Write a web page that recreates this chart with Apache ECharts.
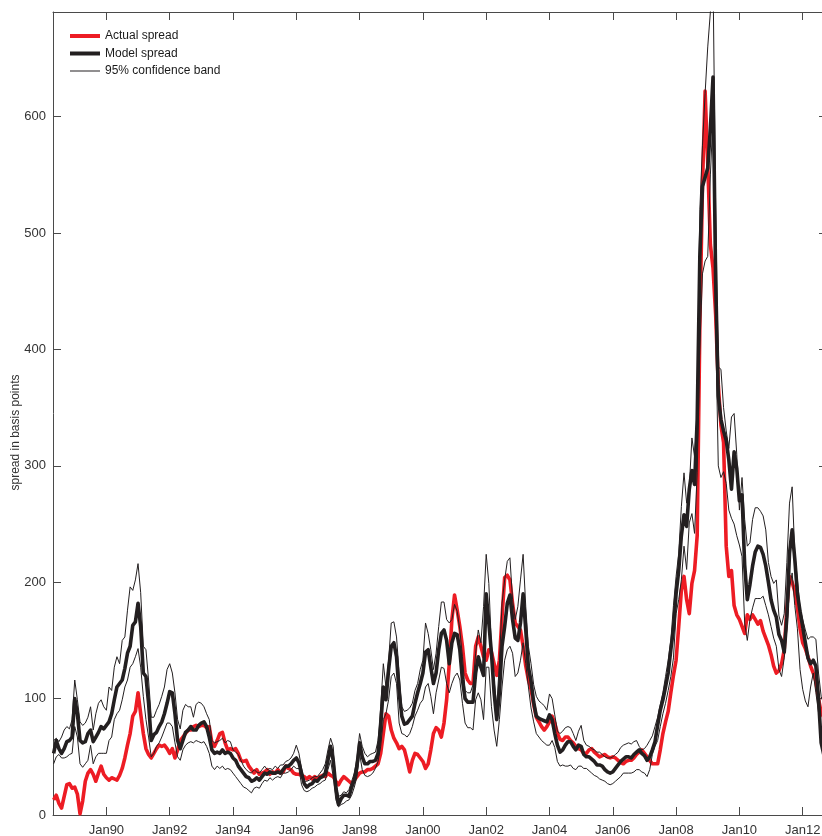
<!DOCTYPE html>
<html>
<head>
<meta charset="utf-8">
<script src="https://cdn.jsdelivr.net/npm/echarts@6/dist/echarts.min.js"></script>
<style>
  html, body { margin: 0; padding: 0; background: #fff; overflow: hidden; }
  #chart { width: 832px; height: 836px; }
</style>
</head>
<body>
<div id="chart"></div>
<script>
// Monthly series, first observation May 1988
const START_YEAR = 1988;
const START_MONTH = 5;

// Actual spread (basis points)
const actual = [
  13,17,10,6,16,26,27,23,24,18,
  1,12,29,36,39,35,29,36,42,35,
  32,30,32,31,30,34,40,49,60,70,
  85,89,105,87,70,57,52,49,53,57,
  60,59,60,57,53,57,49,56,64,67,
  70,73,73,76,77,76,77,77,75,76,
  62,59,64,70,71,62,56,57,56,57,
  53,47,46,47,42,39,36,39,35,36,
  37,39,35,37,36,39,36,37,42,40,
  39,36,35,35,34,33,31,33,31,33,
  31,33,34,33,36,34,33,29,26,30,
  33,31,29,27,30,33,36,37,37,39,
  39,40,42,44,53,70,87,85,73,66,
  62,57,59,56,47,37,47,53,52,49,
  46,40,44,56,70,75,73,67,79,99,
  130,168,189,176,162,145,122,116,113,113,
  145,153,145,136,133,142,140,130,120,133,
  170,204,206,202,182,165,162,159,145,128,
  116,108,95,84,80,76,73,76,80,85,
  79,70,65,64,67,67,64,62,59,57,
  56,53,53,56,57,54,52,50,51,52,
  50,49,50,49,47,45,44,46,47,47,
  49,52,54,56,53,50,47,44,44,44,
  56,70,80,89,105,120,133,162,193,205,
  185,173,199,210,240,420,540,622,560,490,
  470,430,370,335,320,231,205,210,180,172,
  168,162,156,172,168,172,168,164,167,158,
  152,146,138,128,122,124,130,142,178,205,
  200,192,178,160,148,143,136,128,122,115,
  100,88,84,84
];

// Model spread (basis points)
const model = [
  53,64,57,53,57,63,64,67,100,87,
  64,62,63,70,73,63,67,71,76,74,
  77,80,87,99,110,113,116,126,139,145,
  163,166,182,162,122,119,96,64,69,71,
  76,80,87,96,106,105,87,64,57,64,
  71,73,76,73,73,77,79,80,76,67,
  56,53,54,53,56,53,54,53,49,47,
  42,39,36,33,32,29,30,32,30,33,
  36,35,37,36,36,37,36,39,42,42,
  44,47,49,45,36,27,24,26,27,30,
  29,32,33,36,47,59,47,24,9,14,
  17,17,16,24,30,42,62,50,44,44,
  46,46,47,53,76,110,99,125,145,148,
  136,105,85,78,79,82,85,96,105,113,
  122,140,142,127,113,122,142,156,159,150,
  130,148,156,155,142,116,100,97,97,97,
  122,136,127,120,190,165,139,105,82,105,
  145,162,182,189,168,152,150,165,190,159,
  127,115,97,85,83,82,81,80,86,82,
  70,60,54,56,60,63,63,59,56,60,
  59,52,50,50,48,46,43,43,42,39,
  37,36,37,40,43,46,48,50,50,49,
  52,54,56,53,51,47,50,56,63,77,
  90,99,110,122,142,160,190,210,240,258,
  248,280,296,284,340,480,540,548,556,590,
  634,460,360,340,330,322,305,280,312,298,
  270,275,215,185,198,214,226,231,230,224,
  214,200,185,176,170,155,150,140,170,225,
  245,220,190,175,162,148,135,130,133,128,
  100,62,52,48
];

// Upper edge of the 95% confidence band
const upperBand = [
  64,66,63,67,73,76,74,82,116,99,
  80,77,79,84,93,73,87,96,99,93,
  90,110,107,127,136,130,150,153,176,196,
  193,202,216,191,145,142,116,84,84,90,
  95,102,110,125,130,122,105,82,74,90,
  95,93,93,84,95,97,96,93,87,82,
  64,62,63,64,66,62,64,63,56,54,
  52,47,42,39,37,36,39,37,36,39,
  42,39,40,39,42,40,43,43,46,47,
  49,53,60,53,40,29,29,30,32,33,
  33,36,39,44,56,66,59,27,16,17,
  20,19,22,29,36,49,70,59,53,50,
  52,53,54,64,93,130,110,133,165,166,
  153,122,93,89,90,92,96,107,113,125,
  133,165,156,142,125,139,162,183,183,168,
  165,168,181,175,159,136,107,105,105,112,
  139,159,148,179,224,199,145,116,93,130,
  182,202,218,221,185,168,179,202,224,179,
  145,130,112,102,98,96,94,90,104,100,
  86,72,70,72,75,76,75,70,64,72,
  77,64,60,59,57,56,54,54,52,50,
  49,49,50,52,54,58,60,61,62,61,
  63,64,59,56,57,60,64,68,76,84,
  95,105,119,133,150,180,205,225,265,294,
  268,282,324,308,345,520,575,620,660,690,
  720,520,385,383,350,330,315,342,345,310,
  262,290,254,231,234,254,264,264,261,257,
  245,217,205,199,202,171,163,173,217,268,
  282,225,202,178,168,159,151,153,153,151,
  122,102,95,92
];

// Lower edge of the 95% confidence band
const lowerBand = [
  44,50,52,49,49,50,52,53,76,67,
  44,41,44,47,60,44,50,53,53,53,
  53,64,67,82,87,90,99,110,116,127,
  130,136,143,127,102,82,67,50,53,59,
  62,67,73,79,79,76,62,50,47,56,
  60,62,63,62,64,63,62,63,59,53,
  42,39,42,40,42,39,40,39,36,33,
  30,27,24,23,21,19,23,24,23,27,
  30,29,32,30,32,33,32,36,36,37,
  39,42,40,40,26,21,20,21,23,24,
  26,27,29,30,39,47,33,13,7,9,
  10,12,13,17,24,33,53,39,34,33,
  34,36,40,46,59,82,87,99,119,122,
  113,79,70,69,67,70,76,85,90,96,
  99,110,113,102,87,105,116,127,126,113,
  105,113,119,122,116,96,79,75,75,73,
  99,105,99,82,127,127,93,73,59,82,
  110,133,142,145,139,119,122,133,148,130,
  110,92,80,70,67,64,62,60,60,64,
  58,46,42,43,42,42,43,40,39,42,
  42,40,40,38,36,34,33,31,30,29,
  27,26,27,29,31,33,36,36,36,36,
  37,39,39,37,36,33,39,52,59,64,
  76,87,96,107,119,135,173,185,202,231,
  211,251,259,242,294,400,465,476,480,550,
  600,420,300,290,295,285,262,255,250,240,
  232,222,165,150,168,178,186,186,186,188,
  180,172,162,152,145,125,119,135,160,195,
  208,180,160,125,108,98,93,110,122,105,
  88,65,52,48
];

// Axis ticks
const yearTicks = [1990, 1992, 1994, 1996, 1998, 2000, 2002, 2004, 2006, 2008, 2010, 2012];
const xMin = 1988.313;
const xMax = 2012.768;
const yMin = 0;
const yMax = 690;

const RED = '#ED1C24';
const INK = '#231F20';
const AXIS = '#4a4a4a';
const TEXT = '#333333';
const FONT = '"Liberation Sans", Arial, Helvetica, sans-serif';

// Legend keys: flat strokes, thick for the spreads and hairline for the band
const THICK_KEY = 'path://M0,0 L30,0 L30,4 L0,4 Z';
const THIN_KEY = 'path://M0,0 L30,0 L30,1 L0,1 Z';

// Decimal year of month i
function monthPos(i) {
  return START_YEAR + (START_MONTH - 1 + i) / 12;
}
function toPairs(arr) {
  return arr.map((v, i) => [monthPos(i), v]);
}
function yearLabel(v) {
  return 'Jan' + String(Math.round(v)).slice(2);
}

const chart = echarts.init(document.getElementById('chart'), null, { renderer: 'canvas' });

const tickStyle = { inside: true, length: 8, lineStyle: { color: AXIS, width: 1 } };
const lineStyleAxis = { show: true, onZero: false, lineStyle: { color: AXIS, width: 1 } };

chart.setOption({
  animation: false,
  backgroundColor: '#ffffff',
  textStyle: { fontFamily: FONT },
  grid: {
    left: 53, top: 12, width: 774, height: 803,
    containLabel: false, outerBoundsMode: 'none'
  },
  legend: {
    orient: 'vertical',
    left: 65,
    top: 25,
    itemWidth: 30,
    itemHeight: 14,
    itemGap: 5.5,
    symbolKeepAspect: true,
    textStyle: { fontSize: 12, color: '#1a1a1a', fontFamily: FONT },
    data: [
      { name: 'Actual spread', icon: THICK_KEY, itemStyle: { color: RED } },
      { name: 'Model spread', icon: THICK_KEY, itemStyle: { color: INK } },
      { name: '95% confidence band', icon: THIN_KEY, itemStyle: { color: INK } }
    ]
  },
  xAxis: [
    {
      type: 'value', position: 'bottom', min: xMin, max: xMax,
      axisLine: lineStyleAxis,
      axisTick: Object.assign({ customValues: yearTicks }, tickStyle),
      axisLabel: {
        customValues: yearTicks, formatter: yearLabel, margin: 9,
        fontSize: 13, color: TEXT, fontFamily: FONT
      },
      splitLine: { show: false }
    },
    {
      type: 'value', position: 'top', min: xMin, max: xMax,
      axisLine: lineStyleAxis,
      axisTick: Object.assign({ customValues: yearTicks }, tickStyle),
      axisLabel: { show: false },
      splitLine: { show: false }
    }
  ],
  yAxis: [
    {
      type: 'value', position: 'left', min: yMin, max: yMax, interval: 100,
      name: 'spread in basis points', nameLocation: 'middle', nameGap: 31, nameRotate: 90,
      nameMoveOverlap: false,
      nameTextStyle: { fontSize: 12, color: TEXT, fontFamily: FONT, padding: [0, 38, 0, 0] },
      axisLine: lineStyleAxis,
      axisTick: tickStyle,
      axisLabel: {
        margin: 7, fontSize: 13, color: TEXT, fontFamily: FONT,
        formatter: v => (v % 100 === 0 ? String(v) : '')
      },
      splitLine: { show: false }
    },
    {
      type: 'value', position: 'right', min: yMin, max: yMax, interval: 100,
      axisLine: lineStyleAxis,
      axisTick: tickStyle,
      axisLabel: { show: false },
      splitLine: { show: false }
    }
  ],
  series: [
    {
      name: 'Actual spread', type: 'line', data: toPairs(actual),
      showSymbol: false, symbol: 'none', clip: true, z: 2,
      lineStyle: { color: RED, width: 3.6, join: 'round' }, itemStyle: { color: RED }
    },
    {
      name: 'Model spread', type: 'line', data: toPairs(model),
      showSymbol: false, symbol: 'none', clip: true, z: 3,
      lineStyle: { color: INK, width: 3.6, join: 'round' }, itemStyle: { color: INK }
    },
    {
      name: '95% confidence band', type: 'line', data: toPairs(upperBand),
      showSymbol: false, symbol: 'none', clip: true, z: 4,
      lineStyle: { color: INK, width: 1 }, itemStyle: { color: INK }
    },
    {
      name: '95% confidence band', type: 'line', data: toPairs(lowerBand),
      showSymbol: false, symbol: 'none', clip: true, z: 4,
      lineStyle: { color: INK, width: 1 }, itemStyle: { color: INK }
    }
  ]
});
</script>
</body>
</html>
